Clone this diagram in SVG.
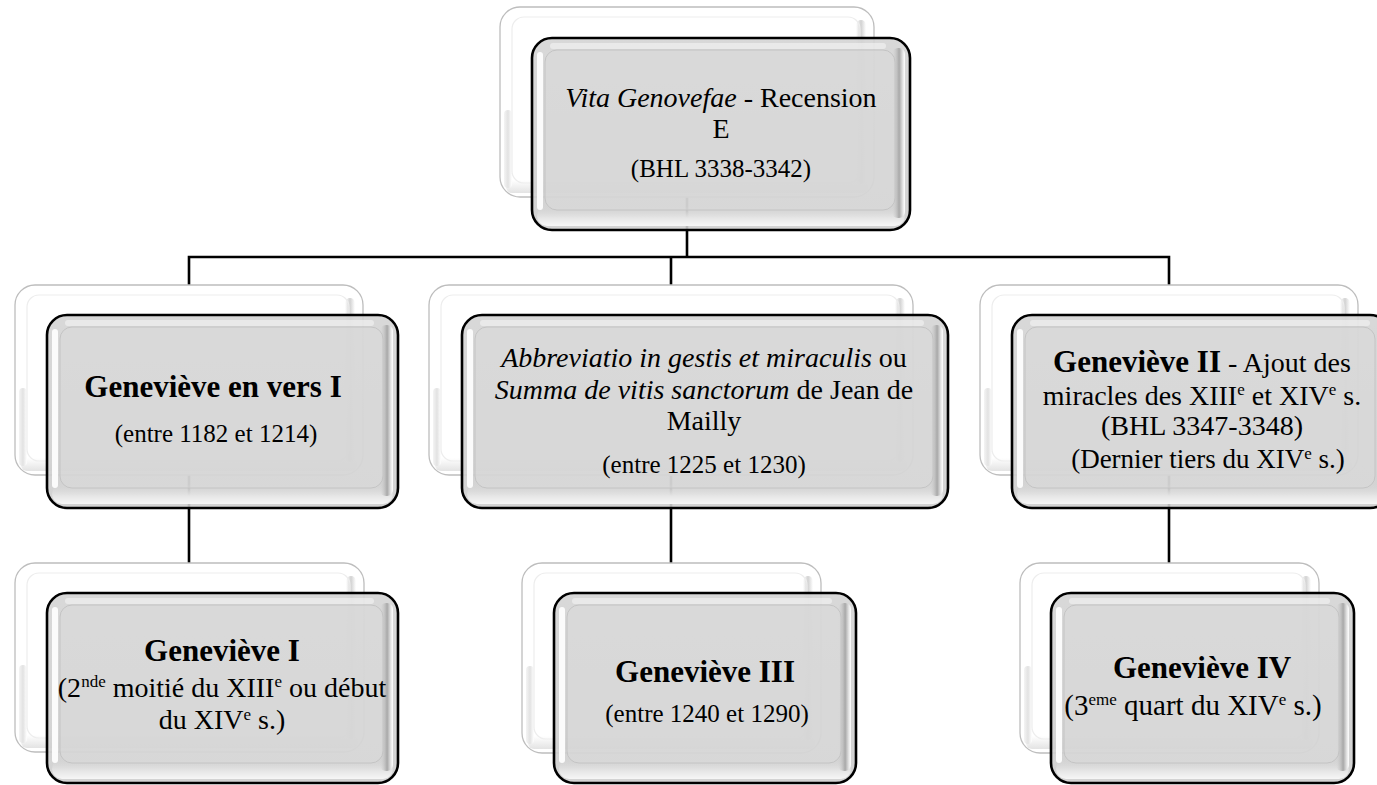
<svg xmlns="http://www.w3.org/2000/svg" width="1377" height="785" viewBox="0 0 1377 785">
<style>
  text { font-family: "Liberation Serif", "Times New Roman", serif; fill: #000; text-anchor: middle; font-size: 28px; }
  .t25 { font-size: 25px; }
  .t27 { font-size: 27px; }
  .t29 { font-size: 29px; }
  .it { font-style: italic; }
  .bd { font-weight: bold; font-size: 31px; }
  .sup { font-size: 17px; }
  .conn { fill: none; stroke: #000; stroke-width: 2.6; }
  .b-out { fill: #ffffff; stroke: #bdbdbd; stroke-width: 1.3; }
  .b-in { fill: none; stroke: #ededed; stroke-width: 1.2; }
  .b-right { fill: url(#bRight); }
  .b-left { fill: url(#bLeft); }
  .b-bot { fill: url(#bBot); }
  .f-out { fill: url(#fFill); fill-opacity: 0.9; stroke: #000; stroke-width: 2.6; }
  .f-in { fill: #dadada; fill-opacity: 0.55; stroke: #c4c4c4; stroke-width: 1; }
  .f-left { fill: #ffffff; opacity: 0.9; }
  .f-top { fill: #ffffff; opacity: 0.45; }
  .f-right { fill: url(#fRight); }
  .f-bot { fill: url(#fBot); }
</style>
<defs>
  <linearGradient id="fFill" x1="0" y1="0" x2="0" y2="1">
    <stop offset="0" stop-color="#d4d4d4"/>
    <stop offset="1" stop-color="#cecece"/>
  </linearGradient>
  <linearGradient id="fRight" x1="0" y1="0" x2="1" y2="0">
    <stop offset="0" stop-color="#d4d4d4" stop-opacity="0"/>
    <stop offset="0.55" stop-color="#a8a8a8"/>
    <stop offset="0.85" stop-color="#e8e8e8"/>
    <stop offset="1" stop-color="#ffffff"/>
  </linearGradient>
  <linearGradient id="fBot" x1="0" y1="0" x2="0" y2="1">
    <stop offset="0" stop-color="#d6d6d6" stop-opacity="0"/>
    <stop offset="0.6" stop-color="#e6e6e6"/>
    <stop offset="1" stop-color="#f6f6f6"/>
  </linearGradient>
  <linearGradient id="bRight" x1="0" y1="0" x2="1" y2="0">
    <stop offset="0" stop-color="#ffffff"/>
    <stop offset="0.5" stop-color="#d2d2d2"/>
    <stop offset="1" stop-color="#ffffff"/>
  </linearGradient>
  <linearGradient id="bLeft" x1="0" y1="0" x2="1" y2="0">
    <stop offset="0" stop-color="#f4f4f4"/>
    <stop offset="0.5" stop-color="#e2e2e2"/>
    <stop offset="1" stop-color="#ffffff"/>
  </linearGradient>
  <linearGradient id="bBot" x1="0" y1="0" x2="0" y2="1">
    <stop offset="0" stop-color="#ffffff"/>
    <stop offset="1" stop-color="#e3e3e3"/>
  </linearGradient>
</defs>

<g id="connectors">
  <path class="conn" d="M687 197 V257 M189 285 V257 H1169 V285 M671 257 V285"/>
  <path class="conn" d="M189 475 V563"/>
  <path class="conn" d="M671 475 V563"/>
  <path class="conn" d="M1169 475 V563"/>
</g>

<!-- Top node -->
<g id="node-vita">
  <rect class="b-out" x="500" y="7" width="374" height="190" rx="20"/>
  <rect class="b-bot" x="506" y="180" width="362" height="13" rx="6"/>
  <rect class="b-right" x="856" y="20" width="10" height="164" rx="5"/>
  <rect class="b-left" x="504" y="110" width="8" height="78" rx="4"/>
  <rect class="b-in" x="512" y="17" width="348" height="166" rx="12"/>
  <rect class="f-out" x="532" y="38" width="378" height="192" rx="20"/>
  <rect class="f-bot" x="537" y="206" width="368" height="20" rx="10"/>
  <rect class="f-right" x="892" y="48" width="13" height="170" rx="6"/>
  <rect class="f-left" x="537" y="52" width="6" height="158" rx="3"/>
  <rect class="f-top" x="550" y="43" width="336" height="6" rx="3"/>
  <rect class="f-in" x="545" y="50" width="350" height="160" rx="12"/>
  <text><tspan x="721" y="107"><tspan class="it">Vita Genovefae</tspan> - Recension</tspan><tspan x="721" y="138">E</tspan><tspan class="t25" x="721" y="177">(BHL 3338-3342)</tspan></text>
</g>

<!-- Middle left -->
<g id="node-vers1">
  <rect class="b-out" x="15" y="285" width="348" height="190" rx="20"/>
  <rect class="b-bot" x="21" y="458" width="336" height="13" rx="6"/>
  <rect class="b-right" x="345" y="298" width="10" height="164" rx="5"/>
  <rect class="b-left" x="19" y="388" width="8" height="78" rx="4"/>
  <rect class="b-in" x="27" y="295" width="322" height="166" rx="12"/>
  <rect class="f-out" x="47" y="315" width="351" height="193" rx="20"/>
  <rect class="f-bot" x="52" y="484" width="341" height="20" rx="10"/>
  <rect class="f-right" x="380" y="325" width="13" height="171" rx="6"/>
  <rect class="f-left" x="52" y="329" width="6" height="159" rx="3"/>
  <rect class="f-top" x="65" y="320" width="309" height="6" rx="3"/>
  <rect class="f-in" x="60" y="327" width="323" height="161" rx="12"/>
  <text><tspan class="bd" x="213" y="397">Geneviève en vers I</tspan><tspan class="t25" x="216" y="442">(entre 1182 et 1214)</tspan></text>
</g>

<!-- Middle center -->
<g id="node-abbreviatio">
  <rect class="b-out" x="429" y="285" width="484" height="190" rx="20"/>
  <rect class="b-bot" x="435" y="458" width="472" height="13" rx="6"/>
  <rect class="b-right" x="895" y="298" width="10" height="164" rx="5"/>
  <rect class="b-left" x="433" y="388" width="8" height="78" rx="4"/>
  <rect class="b-in" x="441" y="295" width="458" height="166" rx="12"/>
  <rect class="f-out" x="462" y="315" width="486" height="193" rx="20"/>
  <rect class="f-bot" x="467" y="484" width="476" height="20" rx="10"/>
  <rect class="f-right" x="930" y="325" width="13" height="171" rx="6"/>
  <rect class="f-left" x="467" y="329" width="6" height="159" rx="3"/>
  <rect class="f-top" x="480" y="320" width="444" height="6" rx="3"/>
  <rect class="f-in" x="475" y="327" width="458" height="161" rx="12"/>
  <text><tspan x="704" y="367"><tspan class="it">Abbreviatio in gestis et miraculis</tspan> ou</tspan><tspan x="704" y="399"><tspan class="it">Summa de vitis sanctorum</tspan> de Jean de</tspan><tspan x="704" y="430">Mailly</tspan><tspan class="t25" x="704" y="473">(entre 1225 et 1230)</tspan></text>
</g>

<!-- Middle right -->
<g id="node-genevieve2">
  <rect class="b-out" x="980" y="285" width="378" height="190" rx="20"/>
  <rect class="b-bot" x="986" y="458" width="366" height="13" rx="6"/>
  <rect class="b-right" x="1340" y="298" width="10" height="164" rx="5"/>
  <rect class="b-left" x="984" y="388" width="8" height="78" rx="4"/>
  <rect class="b-in" x="992" y="295" width="352" height="166" rx="12"/>
  <rect class="f-out" x="1012" y="315" width="378" height="193" rx="20"/>
  <rect class="f-bot" x="1017" y="484" width="368" height="20" rx="10"/>
  <rect class="f-left" x="1017" y="329" width="6" height="159" rx="3"/>
  <rect class="f-top" x="1030" y="320" width="340" height="6" rx="3"/>
  <rect class="f-in" x="1025" y="327" width="350" height="161" rx="12"/>
  <text><tspan x="1202" y="372"><tspan class="bd">Geneviève II</tspan> - Ajout des</tspan><tspan x="1202" y="405">miracles des XIII<tspan class="sup" dy="-10">e</tspan><tspan dy="10"> et XIV</tspan><tspan class="sup" dy="-10">e</tspan><tspan dy="10"> s.</tspan></tspan><tspan x="1202" y="435">(BHL 3347-3348)</tspan><tspan class="t27" x="1208" y="468">(Dernier tiers du XIV<tspan class="sup" dy="-9">e</tspan><tspan dy="9"> s.)</tspan></tspan></text>
</g>

<!-- Bottom left -->
<g id="node-genevieve1">
  <rect class="b-out" x="15" y="563" width="349" height="189" rx="20"/>
  <rect class="b-bot" x="21" y="735" width="337" height="13" rx="6"/>
  <rect class="b-right" x="346" y="576" width="10" height="163" rx="5"/>
  <rect class="b-left" x="19" y="665" width="8" height="78" rx="4"/>
  <rect class="b-in" x="27" y="573" width="323" height="165" rx="12"/>
  <rect class="f-out" x="47" y="593" width="351" height="190" rx="20"/>
  <rect class="f-bot" x="52" y="759" width="341" height="20" rx="10"/>
  <rect class="f-right" x="380" y="603" width="13" height="168" rx="6"/>
  <rect class="f-left" x="52" y="607" width="6" height="156" rx="3"/>
  <rect class="f-top" x="65" y="598" width="309" height="6" rx="3"/>
  <rect class="f-in" x="60" y="605" width="323" height="158" rx="12"/>
  <text><tspan class="bd" x="222" y="661">Geneviève I</tspan><tspan x="222" y="697">(2<tspan class="sup" dy="-10">nde</tspan><tspan dy="10"> moitié du XIII</tspan><tspan class="sup" dy="-10">e</tspan><tspan dy="10"> ou début</tspan></tspan><tspan x="222" y="729">du XIV<tspan class="sup" dy="-9">e</tspan><tspan dy="9"> s.)</tspan></tspan></text>
</g>

<!-- Bottom center -->
<g id="node-genevieve3">
  <rect class="b-out" x="522" y="563" width="299" height="190" rx="20"/>
  <rect class="b-bot" x="528" y="736" width="287" height="13" rx="6"/>
  <rect class="b-right" x="803" y="576" width="10" height="164" rx="5"/>
  <rect class="b-left" x="526" y="666" width="8" height="78" rx="4"/>
  <rect class="b-in" x="534" y="573" width="273" height="166" rx="12"/>
  <rect class="f-out" x="554" y="593" width="302" height="190" rx="20"/>
  <rect class="f-bot" x="559" y="759" width="292" height="20" rx="10"/>
  <rect class="f-right" x="838" y="603" width="13" height="168" rx="6"/>
  <rect class="f-left" x="559" y="607" width="6" height="156" rx="3"/>
  <rect class="f-top" x="572" y="598" width="260" height="6" rx="3"/>
  <rect class="f-in" x="567" y="605" width="274" height="158" rx="12"/>
  <text><tspan class="bd" x="705" y="682">Geneviève III</tspan><tspan class="t25" x="707" y="722">(entre 1240 et 1290)</tspan></text>
</g>

<!-- Bottom right -->
<g id="node-genevieve4">
  <rect class="b-out" x="1020" y="563" width="299" height="190" rx="20"/>
  <rect class="b-bot" x="1026" y="736" width="287" height="13" rx="6"/>
  <rect class="b-right" x="1301" y="576" width="10" height="164" rx="5"/>
  <rect class="b-left" x="1024" y="666" width="8" height="78" rx="4"/>
  <rect class="b-in" x="1032" y="573" width="273" height="166" rx="12"/>
  <rect class="f-out" x="1051" y="593" width="303" height="190" rx="20"/>
  <rect class="f-bot" x="1056" y="759" width="293" height="20" rx="10"/>
  <rect class="f-right" x="1336" y="603" width="13" height="168" rx="6"/>
  <rect class="f-left" x="1056" y="607" width="6" height="156" rx="3"/>
  <rect class="f-top" x="1069" y="598" width="261" height="6" rx="3"/>
  <rect class="f-in" x="1064" y="605" width="275" height="158" rx="12"/>
  <text><tspan class="bd" x="1202" y="678">Geneviève IV</tspan><tspan class="t29" x="1193" y="715">(3<tspan class="sup" dy="-10">eme</tspan><tspan dy="10"> quart du XIV</tspan><tspan class="sup" dy="-10">e</tspan><tspan dy="10"> s.)</tspan></tspan></text>
</g>
</svg>
